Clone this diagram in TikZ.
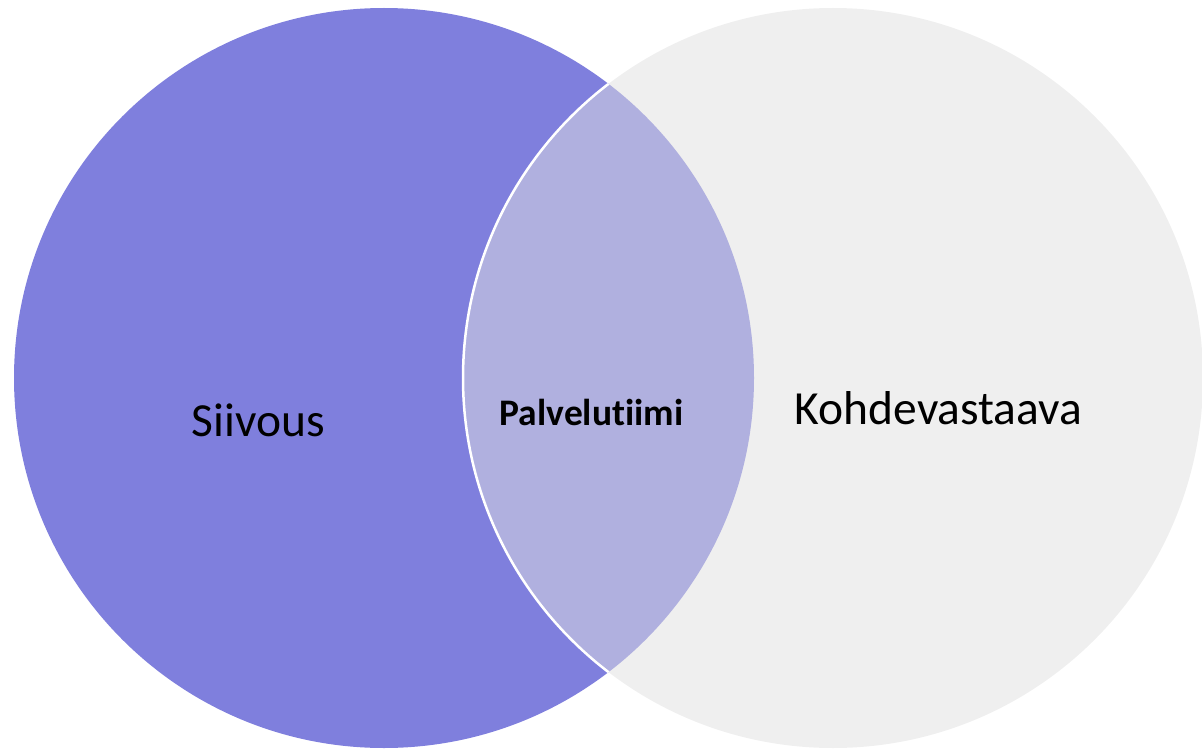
\documentclass[tikz,border=0pt]{standalone}
\usepackage{fontspec}
\setmainfont[Ligatures=NoCommon]{Carlito}
\definecolor{leftc}{HTML}{7F7FDD}
\definecolor{rightc}{HTML}{EFEFEF}
\definecolor{lensc}{HTML}{B0B0DF}
\begin{document}
\begin{tikzpicture}[x=1pt,y=-1pt,
  lbl/.style={inner sep=0pt,text=black,font=\fontsize{47.5}{56}\selectfont},
  lenslbl/.style={inner sep=0pt,text=black,font=\bfseries\fontsize{37.5}{44}\selectfont}]
\useasboundingbox (0,0) rectangle (1202,749);
\coordinate (cl) at (384,378);
\coordinate (cr) at (833,378);
\fill[leftc] (cl) circle[radius=370];
\fill[rightc] (cr) circle[radius=370];
\begin{scope}
  \clip (cl) circle[radius=370];
  \fill[lensc] (cr) circle[radius=370];
  \draw[white,line width=2.5pt] (cr) circle[radius=370];
\end{scope}
\node[lbl] (siivous) at (258.5,420) {Siivous};
\node[lenslbl] (palvelu) at (591.5,412) {Palvelutiimi};
\node[lbl] (kohde) at (938.5,408) {Kohdevastaava};
\end{tikzpicture}
\end{document}
